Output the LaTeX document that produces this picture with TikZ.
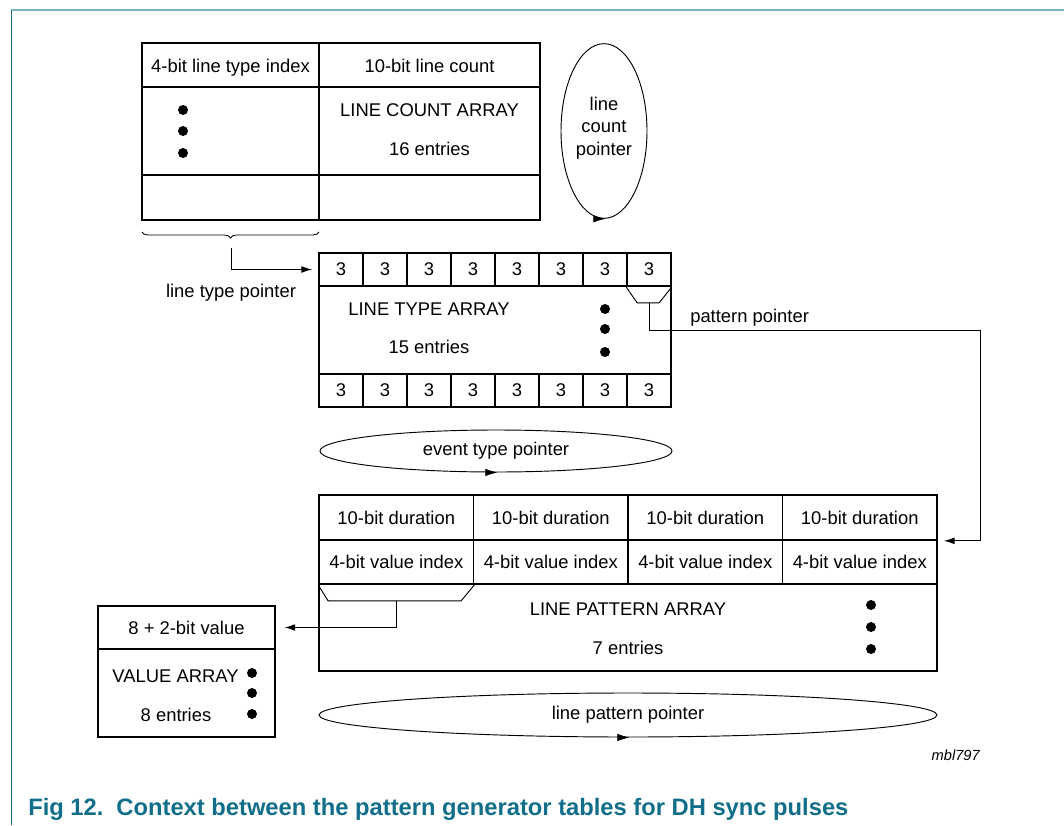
\documentclass[tikz,border=0pt]{standalone}
\usepackage{fontspec}
\setmainfont{Liberation Sans}
\usetikzlibrary{arrows.meta,shapes.geometric,decorations.pathreplacing}

\definecolor{framebar}{RGB}{122,182,200}
\definecolor{frameline}{RGB}{30,110,140}
\definecolor{captionteal}{RGB}{16,110,138}

\begin{document}
\begin{tikzpicture}[x=0.75pt,y=-0.75pt]
			\tikzset{
			  tbl/.style = {line width=1.3pt},
			  cell/.style = {draw, line width=1.3pt, inner sep=0pt,
			                 font=\fontsize{13.8}{16}\selectfont},
			  lbl/.style = {anchor=base, inner sep=0pt,
			                font=\fontsize{13.8}{16}\selectfont},
			  blob/.style = {circle, fill, inner sep=0pt, minimum size=7.5pt},
			  ptr/.style = {line width=0.7pt, -{Latex[length=8pt,width=5pt]}},
			  loopptr/.style = {draw, ellipse, line width=0.7pt, inner sep=0pt,
			                    font=\fontsize{13.8}{17}\selectfont, align=center},
			  looptip/.style = {-{Latex[length=9pt,width=5.5pt]}}
			}
			\useasboundingbox (0,0) rectangle (1064,825);
			\draw[framebar, line width=1.5pt] (11,10) -- (1064,10);
			\draw[frameline, line width=1.1pt] (11.5,10) -- (11.5,825);
%			line count array
			\draw[tbl] (142,43) rectangle (540,220);
			\draw[tbl] (319,43) -- (319,220) (142,87) -- (540,87) (142,175) -- (540,175);
			\node[lbl] (lcidx) at (230.5,72.5) {4-bit line type index};
			\node[lbl] (lccnt) at (429.5,72.5) {10-bit line count};
			\node[lbl] (lcname) at (429.5,116.5) {LINE COUNT ARRAY};
			\node[lbl] (lcnum) at (429.5,155.5) {16 entries};
			\foreach \y [count=\i] in {110,131,153}
			  \node[blob] (lcdot\i) at (183,\y) {};
			\node[loopptr, minimum width=64.5pt, minimum height=131pt] (lcptr) at (604,131) {};
			\node[align=center, inner sep=0pt, font=\fontsize{13.8}{17}\selectfont] (lcptrtxt)
			  at (604,128) {line\\count\\pointer};
			\draw[looptip] ([xshift=-2pt]lcptr.south) -- ([xshift=1pt]lcptr.south);
%			brace and line type pointer
			\draw[line width=0.6pt, decorate, decoration={brace, mirror, amplitude=4.5pt}]
			  (142,232) -- (319,232);
			\coordinate (brtip) at (231,248);
			\node[lbl] (ltplbl) at (231,297.5) {line type pointer};
%			line type array
			\draw[tbl] (319,253) rectangle (671,407);
			\foreach \i in {0,...,7} {
			  \node[cell, minimum width=33pt, minimum height=24.75pt] (top\i) at (341+44*\i,269.5) {3};
			  \node[cell, minimum width=33pt, minimum height=24.75pt] (bot\i) at (341+44*\i,390.5) {3};
			}
			\node[lbl] (ltname) at (429,315.5) {LINE TYPE ARRAY};
			\node[lbl] (ltnum) at (429,353.5) {15 entries};
			\foreach \y [count=\i] in {309,329,352}
			  \node[blob] (ltdot\i) at (605,\y) {};
			\draw[line width=0.7pt] (top7.south west) -- ++(11,16) coordinate (tz1)
			  -- ++(22,0) -- (top7.south east);
			\coordinate (ppsrc) at (top7.south |- tz1);
			\draw[ptr, shorten >=4.5pt] (brtip) |- (top0.west);
			\node[lbl, anchor=base west] (pplbl) at (690,322.5) {pattern pointer};
%			event type pointer
			\node[loopptr, minimum width=264pt, minimum height=31.5pt] (etptr) at (496,451)
			  {event type pointer};
			\draw[looptip] ([xshift=-3pt]etptr.south) -- ([xshift=1pt]etptr.south);
%			line pattern array
			\draw[tbl] (319,495) rectangle (937,671);
			\foreach \i in {0,...,3} {
			  \node[cell, minimum width=115.9pt, minimum height=33.75pt] (dur\i) at (396.25+154.5*\i,517.5) {10-bit duration};
			  \node[cell, minimum width=115.9pt, minimum height=33pt] (idx\i) at (396.25+154.5*\i,562) {4-bit value index};
			}
			\node[lbl] (lpname) at (628,615.5) {LINE PATTERN ARRAY};
			\node[lbl] (lpnum) at (628,654.5) {7 entries};
			\foreach \y [count=\i] in {605,627,649}
			  \node[blob] (lpdot\i) at (871,\y) {};
			\draw[line width=0.7pt] (idx0.south west) -- ++(10,16) coordinate (tz2)
			  -- ++(133,0) -- (idx0.south east);
			\coordinate (vpsrc) at (idx0.south |- tz2);
			\coordinate (lpin) at (dur3.south east);
			\draw[ptr, shorten >=4.5pt] (ppsrc) |- (980,330) |- (lpin);
			\node[loopptr, minimum width=463.5pt, minimum height=33pt] (lpptr) at (628,715)
			  {line pattern pointer};
			\draw[looptip] ([xshift=-3pt]lpptr.south) -- ([xshift=1pt]lpptr.south);
%			value array
			\node[cell, minimum width=132.75pt, minimum height=32.25pt] (vhead) at (186.5,627.5) {8 + 2-bit value};
			\draw[tbl] (98,649) rectangle (275,737);
			\node[lbl] (vname) at (175.5,682.5) {VALUE ARRAY};
			\node[lbl] (vnum) at (176,721.5) {8 entries};
			\foreach \y [count=\i] in {673,693,714}
			  \node[blob] (vdot\i) at (252,\y) {};
			\draw[ptr, shorten >=6.5pt] (vpsrc) |- (vhead.east);
%			figure tag and caption
			\node[anchor=base east, inner sep=0pt, font=\fontsize{11}{13}\selectfont\itshape] (tag) at (980,760) {mbl797};
			\node[anchor=base west, inner sep=0pt, text=captionteal,
			      font=\fontsize{17.8}{20}\selectfont\bfseries] (cap) at (28,815)
			  {Fig 12.\hspace{0.55em}Context between the pattern generator tables for DH sync pulses};
		\end{tikzpicture}
\end{document}
